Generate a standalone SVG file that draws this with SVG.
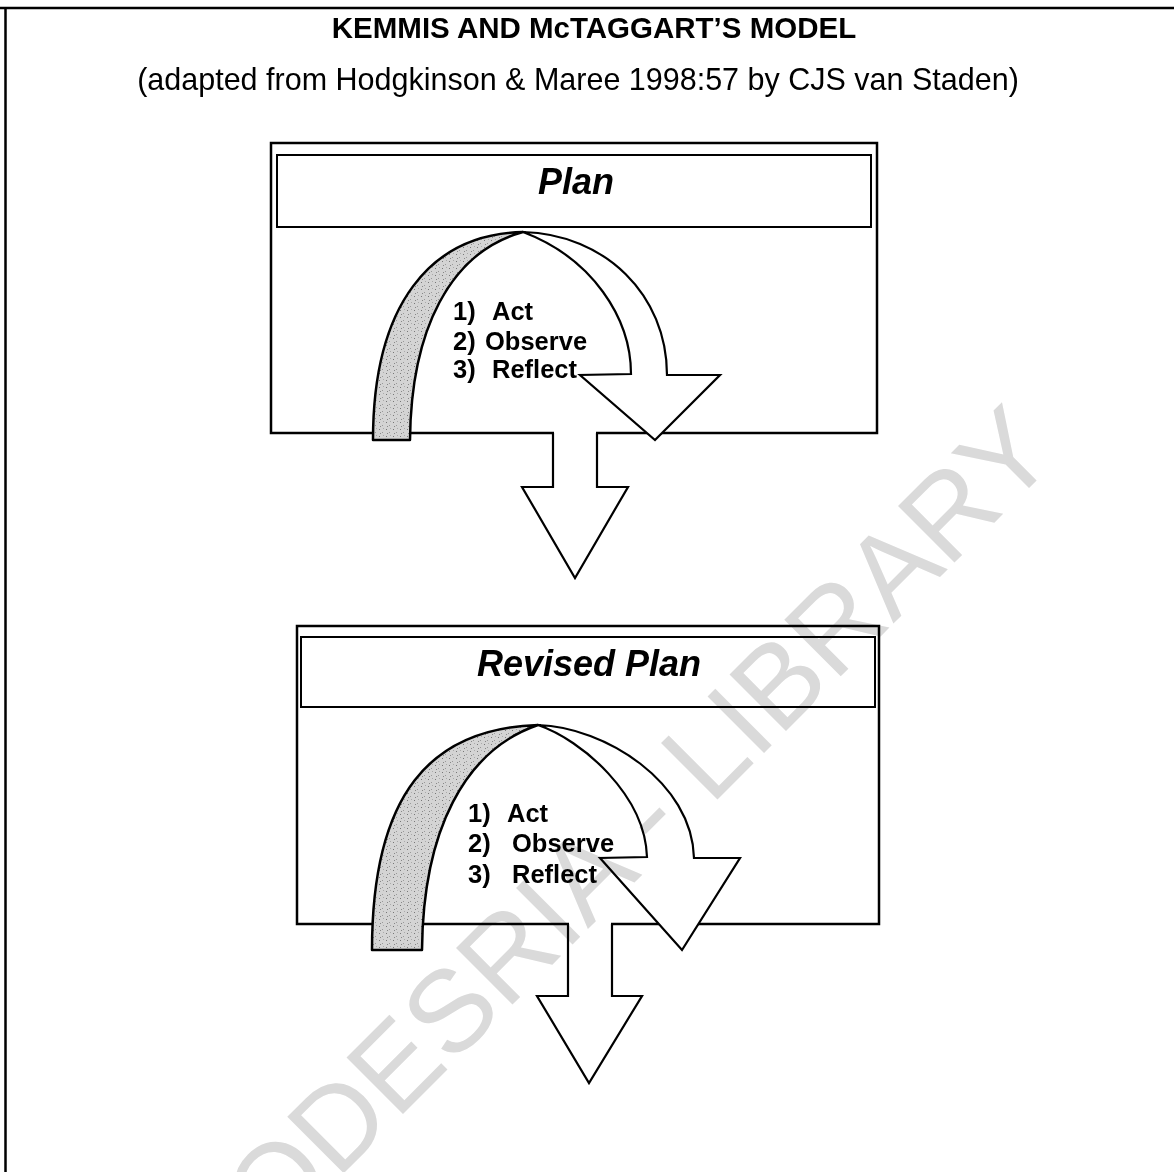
<svg xmlns="http://www.w3.org/2000/svg" width="1174" height="1172" viewBox="0 0 1174 1172">
  <defs>
    <pattern id="stipple" width="7" height="7" patternUnits="userSpaceOnUse">
      <rect width="7" height="7" fill="#d4d4d4"/>
      <rect x="1" y="2" width="1" height="1" fill="#777"/>
      <rect x="4" y="5" width="1" height="1" fill="#999"/>
      <rect x="5" y="1" width="1" height="1" fill="#aaa"/>
      <rect x="2" y="6" width="1" height="1" fill="#888"/>
    </pattern>
  </defs>
  <style>
    .frame { fill: none; stroke: #000; stroke-width: 2.5; }
    .box { fill: #fff; stroke: #000; stroke-width: 2.5; }
    .titlebox { fill: #fff; stroke: #000; stroke-width: 2; }
    .back { fill: url(#stipple); stroke: #000; stroke-width: 2.5; stroke-linejoin: round; }
    .front { fill: #fff; stroke: #000; stroke-width: 2.2; stroke-linejoin: miter; }
    .arrow { fill: #fff; stroke: #000; stroke-width: 2.2; stroke-linejoin: miter; }
    .gap { fill: #fff; stroke: none; }
    .head1 { font-family: "Liberation Sans", Arial, sans-serif; font-weight: bold; font-size: 29.5px; text-anchor: middle; fill: #000; }
    .head2 { font-family: "Liberation Sans", Arial, sans-serif; font-size: 30.5px; text-anchor: middle; fill: #000; }
    .ptitle { font-family: "Liberation Sans", Arial, sans-serif; font-weight: bold; font-style: italic; font-size: 36px; text-anchor: middle; fill: #000; }
    .item { font-family: "Liberation Sans", Arial, sans-serif; font-weight: bold; font-size: 25.5px; fill: #000; }
    .wm { font-family: "Liberation Sans", Arial, sans-serif; font-size: 116px; fill: #dadada; mix-blend-mode: multiply; }
  </style>

  <rect width="1174" height="1172" fill="#fff"/>

  <g id="frame">
    <path class="frame" d="M0,8 H1174 M5.5,8 V1172"/>
  </g>

  <g id="header">
    <text class="head1" x="594" y="38">KEMMIS AND McTAGGART’S MODEL</text>
    <text class="head2" x="578" y="90">(adapted from Hodgkinson &amp; Maree 1998:57 by CJS van Staden)</text>
  </g>

  <g id="plan">
    <rect class="box" x="271" y="143" width="606" height="290"/>
    <rect class="titlebox" x="277" y="155" width="594" height="72"/>
    <text class="ptitle" x="576" y="194">Plan</text>
    <path class="back" d="M373,440 C373,305 430,234 523,232 C450,252 411,330 410,440 Z"/>
    <path class="front" d="M523,232 C605,234 667,295 667,375 L720,375 L655,440 L580,375 L631,374 C631,318 592,258 523,232 Z"/>
    <text class="item" y="320"><tspan x="453">1)</tspan><tspan x="492">Act</tspan></text>
    <text class="item" y="350"><tspan x="453">2)</tspan><tspan x="485">Observe</tspan></text>
    <text class="item" y="378"><tspan x="453">3)</tspan><tspan x="492">Reflect</tspan></text>
  </g>

  <g id="revised-plan">
    <rect class="box" x="297" y="626" width="582" height="298"/>
    <rect class="titlebox" x="301" y="637" width="574" height="70"/>
    <text class="ptitle" x="589" y="676">Revised Plan</text>
    <path class="back" d="M372,950 C372,795 430,728 538,725 C465,750 423,830 422,950 Z"/>
    <path class="front" d="M538,725 C605,727 692,782 694,858 L740,858 L682,950 L600,858 L647,857 C645,795 582,740 538,725 Z"/>
    <text class="item" y="822"><tspan x="468">1)</tspan><tspan x="507">Act</tspan></text>
    <text class="item" y="852"><tspan x="468">2)</tspan><tspan x="512">Observe</tspan></text>
    <text class="item" y="883"><tspan x="468">3)</tspan><tspan x="512">Reflect</tspan></text>
  </g>

  <g id="connectors">
    <rect class="gap" x="554" y="429" width="42" height="8"/>
    <path class="arrow" d="M553,433 V487 H522 L575,578 L628,487 H597 V433"/>
    <rect class="gap" x="569" y="920" width="42" height="8"/>
    <path class="arrow" d="M568,924 V996 H537 L589,1083 L642,996 H612 V924"/>
  </g>

  <g id="watermark">
    <text class="wm" transform="translate(214,1303) rotate(-45)">CODESRIA - LIBRARY</text>
  </g>
</svg>
